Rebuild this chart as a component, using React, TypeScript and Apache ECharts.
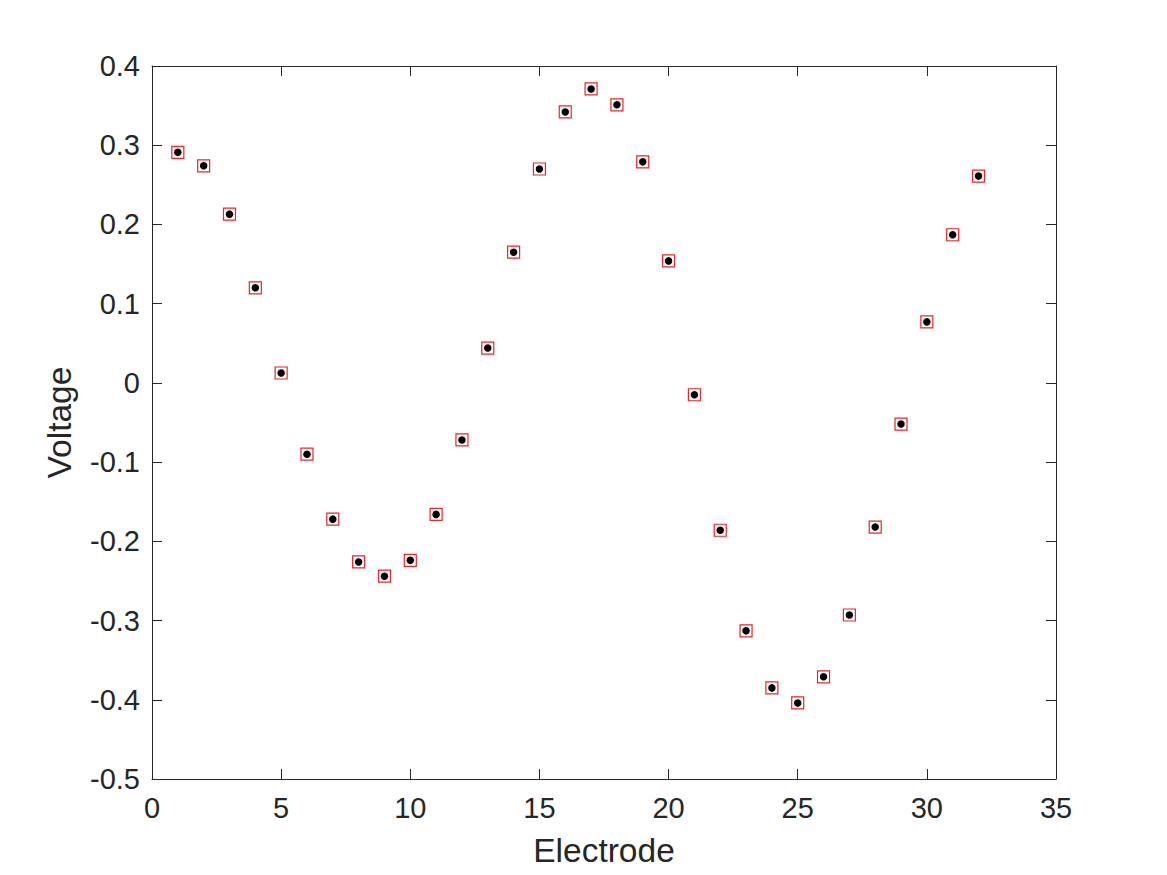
import React, { useEffect, useRef } from "react";
import * as echarts from "echarts";

const electrodes = [1,2,3,4,5,6,7,8,9,10,11,12,13,14,15,16,17,18,19,20,21,22,23,24,25,26,27,28,29,30,31,32];
const voltages = [0.291,0.274,0.213,0.120,0.0125,-0.090,-0.172,-0.226,-0.244,-0.224,-0.166,-0.072,0.044,0.165,0.270,0.342,0.371,0.351,0.279,0.154,-0.015,-0.186,-0.313,-0.385,-0.404,-0.371,-0.293,-0.182,-0.052,0.077,0.187,0.261];

const FONT = "'Liberation Sans', Arial, Helvetica, sans-serif";
const INK = "#262626";

export default function App() {
  const ref = useRef<HTMLDivElement>(null);
  useEffect(() => {
    if (!ref.current) return;
    const chart = echarts.init(ref.current, undefined, { renderer: "svg" });
    const data = electrodes.map((e, i) => [e, voltages[i]]);
    const axisCommon = {
      axisLine: { show: true, onZero: false, lineStyle: { color: INK, width: 1 } },
      axisTick: { show: true, inside: true, length: 10, lineStyle: { color: INK, width: 1 } },
      splitLine: { show: false },
    };
    chart.setOption({
      animation: false,
      backgroundColor: "#ffffff",
      grid: { left: 152, right: 111, top: 66, bottom: 96 },
      xAxis: [
        {
          type: "value", min: 0, max: 35, interval: 5, position: "bottom",
          ...axisCommon,
          axisLabel: { color: INK, fontSize: 29, fontFamily: FONT, margin: 14 },
          name: "Electrode", nameLocation: "middle", nameGap: 54,
          nameTextStyle: { color: INK, fontSize: 33.5, fontFamily: FONT },
        },
        {
          type: "value", min: 0, max: 35, interval: 5, position: "top",
          ...axisCommon, axisLabel: { show: false },
        },
      ],
      yAxis: [
        {
          type: "value", min: -0.5, max: 0.4, interval: 0.1, position: "left",
          ...axisCommon,
          axisLabel: { color: INK, fontSize: 29, fontFamily: FONT, margin: 12 },
          name: "Voltage", nameLocation: "middle", nameGap: 76,
          nameTextStyle: { color: INK, fontSize: 33.5, fontFamily: FONT },
        },
        {
          type: "value", min: -0.5, max: 0.4, interval: 0.1, position: "right",
          ...axisCommon, axisLabel: { show: false },
        },
      ],
      series: [
        {
          type: "scatter", data, symbol: "rect", symbolSize: 12,
          itemStyle: { color: "#ffffff", borderColor: "#e8262b", borderWidth: 1.2, opacity: 1 },
        },
        {
          type: "scatter", data, symbol: "circle", symbolSize: 7.5,
          itemStyle: { color: "#000000", opacity: 1 },
        },
      ],
    });
    return () => chart.dispose();
  }, []);
  return (
    <div
      ref={ref}
      style={{ position: "fixed", left: 0, top: 0, width: 1167, height: 875, background: "#fff" }}
    />
  );
}
